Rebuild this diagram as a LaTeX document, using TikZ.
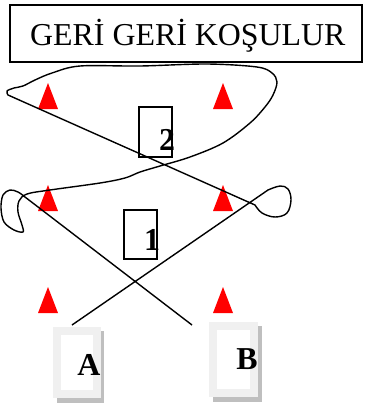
\documentclass[tikz,border=0pt]{standalone}
\usepackage{fontspec}
\setmainfont{Liberation Serif}
\begin{document}
\begin{tikzpicture}[x=1bp,y=-1bp,
  cone/.style={fill=red,draw=none},
  numbox/.style={draw=black,line width=1.3bp},
  lbl/.style={font=\fontsize{32}{32}\selectfont\bfseries,inner sep=0,anchor=base},
  frameout/.style={fill=black!6,draw=none},
  shadow/.style={fill=black!25,draw=none},
  curve/.style={draw=black,line width=1.4bp,line join=round}]
\useasboundingbox (0,0) rectangle (367,405);
% title
\draw[line width=1.6bp] (10,5) rectangle (362,62);
\node[inner sep=0,anchor=base west,font=\fontsize{32}{32}\selectfont] (title) at (30,45) {GERİ GERİ KOŞULUR};
% cones
\foreach \x/\y [count=\i] in {48/83,223/83,48/185,223/185,48/287,223/287}{
  \fill[cone] (\x-10,\y+26) -- (\x,\y) -- (\x+10,\y+26) -- cycle;
}
% path
\draw[curve] (72,325) -- (268,190)
  plot[smooth,tension=0.6] coordinates {(268,190) (280,186) (288,189) (291,200) (287,213) (275,217) (262,213) (255,205)}
  -- (8,95)
  plot[smooth,tension=0.55] coordinates {(8,95) (7,91) (14,88) (23,86) (35,80) (52,73) (80,66) (140,66) (207,64) (257,67) (272,73) (277,82) (273,95) (265,107) (250,123) (223,143) (190,157) (160,166) (140,172) (125,178) (100,183) (50,190) (27,194) (19,201) (18,212) (22,225) (23,232) (14,230) (4,222) (1,208) (3,195) (10,190) (18,192) (25,197)}
  -- (192,325);
% numbered boxes
\draw[numbox] (139,107) rectangle (172,157);
\node[lbl] (two) at (167,150) {2};
\draw[numbox] (124,210) rectangle (157,259);
\node[lbl] (one) at (152,250) {1};
% A and B frames
\fill[shadow] (57,331) rectangle (104,403);
\fill[frameout] (53,327) rectangle (101,398);
\fill[white] (61,335) rectangle (93,390);
\node[lbl] (A) at (89,375) {A};
\fill[shadow] (213,326) rectangle (262,402);
\fill[frameout] (209,322) rectangle (258,397);
\fill[white] (217,330) rectangle (250,389);
\node[lbl] (B) at (247,369) {B};
\end{tikzpicture}
\end{document}
